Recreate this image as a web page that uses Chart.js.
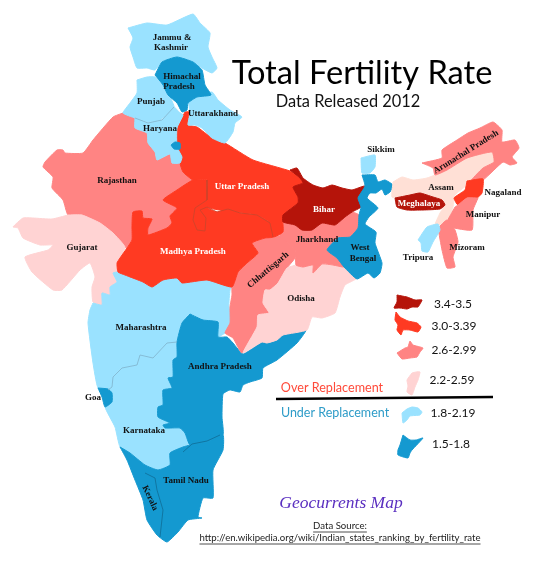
<!DOCTYPE html>
<html>
<head>
<meta charset="utf-8">
<title>Total Fertility Rate</title>
<script src="https://cdn.jsdelivr.net/npm/chart.js@4"></script>
<style>
  html, body { margin: 0; padding: 0; background: #fff; }
  canvas { display: block; }
</style>
</head>
<body>
<canvas id="map" width="533" height="575"></canvas>
<script>
// Outlines, on a 533 x 575 map grid
const jammuKashmir = [[128,28],[147,23],[167,25],[193,14],[200,23],[210,33],[208,47],[212,57],[217,68],[212,73],[202,68],[193,62],[177,57],[163,61],[155,70],[147,68],[137,68],[133,57],[130,47],[133,38]];
const himachal = [[155,75],[162,62],[177,57],[193,62],[202,70],[205,85],[211,95],[197,97],[188,103],[187,110],[182,112],[177,103],[168,95],[163,85]];
const punjab = [[137,80],[147,77],[155,77],[163,86],[170,97],[174,107],[160,120],[148,122],[135,118],[123,113],[130,103],[137,93]];
const haryana = [[135,118],[148,123],[162,120],[174,107],[179,112],[183,115],[177,128],[177,147],[182,157],[180,163],[172,163],[170,154],[157,160],[155,152],[148,143],[147,133],[135,128]];
const delhi = [[171,145],[175,142],[180,143],[180,149],[174,149]];
const uttarakhand = [[188,100],[195,97],[212,92],[218,100],[230,110],[242,117],[235,123],[233,132],[225,143],[212,138],[202,128],[195,125],[188,125],[190,113]];
const uttarPradesh = [[185,112],[189,112],[188,125],[197,127],[212,138],[225,143],[253,160],[290,171],[300,178],[303,183],[293,187],[298,197],[298,203],[283,215],[283,232],[273,237],[270,223],[257,215],[207,207],[207,180],[193,180],[183,172],[180,163],[182,157],[177,147],[177,128]];
const madhyaPradesh = [[207,180],[193,180],[177,190],[163,200],[177,208],[170,216],[172,223],[167,228],[148,235],[148,228],[152,219],[143,218],[142,211],[133,212],[132,227],[132,240],[127,248],[120,258],[117,263],[118,272],[125,275],[143,282],[152,287],[163,280],[177,278],[182,283],[207,280],[232,287],[238,272],[247,263],[258,253],[252,243],[265,238],[273,237],[270,223],[257,215],[240,213],[228,209],[217,212],[207,207]];
const bihar = [[290,170],[297,168],[303,178],[313,185],[323,188],[332,185],[342,188],[352,190],[365,186],[360,198],[361,207],[352,212],[345,217],[335,225],[322,223],[312,230],[302,230],[295,225],[283,222],[283,215],[298,203],[298,197],[293,187],[303,183],[300,178]];
const jharkhand = [[283,222],[295,225],[302,230],[312,230],[322,223],[335,225],[345,217],[352,212],[359,215],[358,228],[350,237],[338,238],[327,250],[337,258],[344,267],[333,265],[322,264],[313,273],[313,265],[303,267],[296,265],[295,250],[280,236],[283,227]];
const chhattisgarh = [[252,243],[265,238],[280,236],[295,250],[295,258],[287,268],[278,283],[270,290],[265,290],[263,303],[269,313],[258,315],[257,327],[242,353],[233,338],[225,333],[230,323],[230,307],[232,295],[232,287],[238,272],[247,263],[258,253]];
const odisha = [[296,265],[303,267],[313,265],[313,273],[322,264],[333,265],[344,267],[357,278],[345,285],[340,297],[335,313],[322,318],[312,317],[307,330],[283,335],[277,340],[267,343],[262,342],[243,353],[257,327],[258,315],[269,313],[263,303],[265,290],[270,290],[278,283],[287,268]];
const westBengal = [[362,175],[375,175],[378,182],[385,180],[393,185],[390,192],[385,195],[382,189],[376,193],[370,193],[367,198],[378,208],[369,217],[365,224],[376,232],[375,243],[382,263],[380,273],[374,278],[368,273],[357,279],[344,267],[337,258],[327,250],[338,238],[350,237],[358,228],[359,215],[361,207],[358,198],[365,186]];
const sikkim = [[361,158],[375,155],[375,167],[370,173],[362,173]];
const assam = [[393,182],[402,177],[413,180],[427,178],[447,170],[467,158],[492,152],[494,162],[483,168],[467,185],[455,195],[453,207],[447,222],[435,225],[440,213],[443,208],[437,198],[420,195],[403,197],[392,197]];
const meghalaya = [[395,198],[410,195],[420,193],[433,197],[442,200],[445,205],[440,209],[423,210],[407,210],[397,207]];
const arunachal = [[422,163],[442,158],[442,150],[457,140],[468,133],[480,128],[493,122],[502,130],[502,142],[515,140],[519,148],[512,157],[517,163],[510,165],[503,162],[483,180],[470,182],[483,168],[494,162],[492,152],[467,158],[447,170],[435,175],[433,168]];
const nagaland = [[467,181],[483,179],[482,193],[477,198],[467,198],[458,205],[454,198],[465,190]];
const manipur = [[455,207],[458,205],[467,198],[477,198],[478,198],[473,210],[472,230],[450,227],[447,222]];
const mizoram = [[438,228],[447,220],[455,230],[458,242],[453,257],[455,267],[447,268],[442,250]];
const tripura = [[418,240],[427,227],[438,224],[440,230],[433,242],[428,252],[422,251],[421,243]];
const rajasthan = [[123,113],[135,118],[135,128],[147,133],[148,143],[155,152],[157,160],[170,154],[172,163],[180,163],[183,172],[193,180],[177,190],[163,200],[177,208],[170,216],[172,223],[167,228],[148,235],[148,228],[152,219],[143,218],[142,211],[133,212],[132,227],[132,240],[126,248],[113,233],[100,223],[82,215],[68,215],[63,200],[52,188],[53,177],[43,167],[45,162],[57,150],[63,150],[65,153],[83,153],[93,140],[113,117]];
const gujarat = [[68,215],[82,215],[100,223],[113,233],[125,247],[120,258],[117,263],[118,272],[113,273],[117,282],[110,287],[110,295],[102,293],[102,305],[93,302],[92,287],[95,277],[90,263],[80,270],[62,290],[53,290],[32,272],[25,257],[48,250],[53,245],[40,245],[23,238],[18,228],[13,227],[23,218],[33,218],[52,219]];
const maharashtra = [[93,303],[102,305],[102,293],[110,295],[110,287],[117,282],[113,273],[118,272],[125,275],[143,282],[152,287],[163,280],[177,278],[182,283],[207,280],[232,287],[230,290],[229,307],[236,323],[225,333],[218,337],[218,323],[203,320],[190,314],[182,323],[177,342],[167,343],[153,358],[140,355],[137,365],[122,368],[113,377],[112,387],[108,390],[98,388],[93,363],[88,323],[90,310]];
const goa = [[98,388],[108,389],[112,393],[112,402],[105,407],[102,397]];
const andhraPradesh = [[190,314],[203,320],[218,322],[218,337],[227,337],[233,343],[243,354],[262,342],[267,343],[277,340],[283,335],[306,330],[297,343],[277,360],[263,368],[262,378],[250,382],[243,385],[240,392],[230,390],[223,394],[222,417],[223,435],[207,442],[190,445],[185,433],[180,428],[165,428],[163,425],[170,423],[158,417],[158,407],[163,405],[163,390],[172,388],[168,378],[173,377],[173,360],[177,357],[177,342],[182,323]];
const karnataka = [[108,390],[112,387],[113,377],[122,368],[137,365],[140,355],[153,358],[167,343],[177,342],[177,357],[173,360],[173,377],[168,378],[172,388],[163,390],[163,405],[158,407],[158,417],[170,423],[163,425],[165,428],[180,428],[185,433],[190,443],[183,447],[170,453],[170,465],[158,470],[145,465],[130,453],[120,447],[115,427],[105,407],[112,402],[112,393]];
const southTip = [[120,447],[130,453],[145,465],[158,470],[170,465],[170,453],[183,447],[190,445],[207,442],[223,435],[223,450],[213,470],[213,498],[203,498],[198,517],[202,518],[188,520],[178,532],[167,542],[157,535],[147,520],[143,500],[135,480],[127,460]];

// State lines inside same-coloured areas
const upMpLine = [[207,180],[207,200],[195,208],[193,220],[197,230],[205,231],[206,218],[200,210],[207,207],[217,212],[228,209],[240,213],[257,215],[270,223],[273,237]];
const keralaLine = [[145,473],[155,478],[157,490],[163,510],[160,537]];
const apTnLine = [[183,452],[192,444],[207,441],[220,435]];
const mahKarLine = [[108,390],[112,387],[113,377],[122,368],[137,365],[140,355],[153,358],[167,343],[177,342]];
const punHarLine = [[135,118],[148,123],[162,120],[174,107]];

// Small legend shapes
const keyBihar = [[397,295],[402,296],[407,297],[415,300],[422,300],[420,304],[418,307],[412,307],[407,309],[400,308],[394,308],[397,302]];
const keyUttar = [[396,312],[400,317],[408,321],[417,323],[421,327],[418,332],[410,330],[403,330],[401,335],[397,330],[398,325],[395,320]];
const keyRajasthan = [[397,353],[405,348],[408,347],[410,341],[413,345],[423,348],[420,352],[417,357],[410,358],[402,359]];
const keyChhattisgarh = [[412,373],[416,372],[420,372],[418,380],[415,387],[412,395],[407,392],[408,386],[407,380]];
const keyMaharashtra = [[402,413],[407,409],[412,407],[418,408],[422,412],[420,415],[410,416],[407,420],[403,423]];
const keyAndhra = [[403,435],[410,440],[416,440],[423,438],[412,450],[410,453],[408,458],[398,455],[398,450],[400,445]];

const darkRed = "#b5140a";
const red = "#ff3a22";
const pink = "#ff8483";
const paleRed = "#ffd3d3";
const paleBlue = "#9ae2ff";
const blue = "#1499d0";

const tierLabels = ["3.4-3.5", "3.0-3.39", "2.6-2.99", "2.2-2.59", "1.8-2.19", "1.5-1.8"];

// painter's order: later shapes sit on top
const shapes = [
  [rajasthan, pink], [gujarat, paleRed], [maharashtra, paleBlue], [karnataka, paleBlue],
  [goa, blue], [southTip, blue], [andhraPradesh, blue], [chhattisgarh, pink], [odisha, paleRed],
  [jharkhand, pink], [uttarPradesh, red], [madhyaPradesh, red], [bihar, darkRed], [westBengal, blue],
  [sikkim, paleBlue], [assam, "#ffe0d6"], [meghalaya, darkRed], [arunachal, pink], [nagaland, red],
  [manipur, pink], [mizoram, pink], [tripura, paleBlue], [jammuKashmir, paleBlue], [punjab, paleBlue],
  [haryana, paleBlue], [delhi, blue], [uttarakhand, paleBlue], [himachal, blue],
  [keyBihar, darkRed], [keyUttar, red], [keyRajasthan, pink], [keyChhattisgarh, paleRed],
  [keyMaharashtra, paleBlue], [keyAndhra, blue],
];
const borders = [
  [upMpLine, "#c8452c"], [keralaLine, "#0f6c96"], [apTnLine, "#0f6c96"],
  [mahKarLine, "#7fb2cb"], [punHarLine, "#7fb2cb"],
];

const stateNames = ["Jammu &", "Kashmir", "Himachal", "Pradesh", "Punjab", "Uttarakhand", "Haryana", "Rajasthan", "Sikkim", "Assam", "Nagaland", "Manipur", "Mizoram", "Tripura", "Jharkhand", "West", "Bengal", "Odisha", "Gujarat", "Maharashtra", "Andhra Pradesh", "Goa", "Karnataka", "Tamil Nadu"];
const nameSpots = [[172,38],[171,48],[182,77],[179,87],[151,102],[213,114],[160,129],[117,181],[381,150],[441,188],[503,193],[483,215],[467,248],[418,258],[317,240],[360,248],[363,259],[301,299],[82,248],[141,328],[220,367],[93,398],[144,431],[186,481]];
const whiteNames = ["Uttar Pradesh", "Bihar", "Meghalaya", "Madhya Pradesh"];
const whiteSpots = [[242,187],[324,210],[419,204],[193,252]];
const slantNames = ["Arunachal Pradesh", "Chhattisgarh", "Kerala"];
const slantSpots = [[466,152,-32],[268,270,-40],[150,498,65]];
const tierSpots = [[453,304],[454,326],[454,350],[452,380],[453,413],[451,444]];

function toPoints(outline) {
  const pts = outline.map(([x, y]) => ({ x, y }));
  pts.push({ x: outline[0][0], y: outline[0][1] });
  return pts;
}

const shapeSets = shapes.map(([outline, colour]) => ({
  data: toPoints(outline),
  showLine: true,
  fill: "shape",
  tension: 0.15,
  backgroundColor: colour,
  borderColor: colour,
  borderWidth: 1,
  borderJoinStyle: "round",
  pointRadius: 0,
  clip: false,
}));
const borderSets = borders.map(([line, colour]) => ({
  data: line.map(([x, y]) => ({ x, y })),
  showLine: true,
  fill: false,
  borderColor: colour,
  borderWidth: 0.8,
  pointRadius: 0,
  clip: false,
}));

function drawText(ctx, text, x, y, font, colour, rot) {
  ctx.save();
  ctx.translate(x, y);
  if (rot) ctx.rotate((rot * Math.PI) / 180);
  ctx.font = font;
  ctx.fillStyle = colour;
  ctx.textAlign = "center";
  ctx.textBaseline = "middle";
  ctx.fillText(text, 0, 0);
  ctx.restore();
}

function underlined(ctx, text, x, y, font, colour) {
  drawText(ctx, text, x, y, font, colour);
  ctx.save();
  ctx.font = font;
  const w = ctx.measureText(text).width;
  ctx.strokeStyle = colour;
  ctx.lineWidth = 0.8;
  ctx.beginPath();
  ctx.moveTo(x - w / 2, y + 6);
  ctx.lineTo(x + w / 2, y + 6);
  ctx.stroke();
  ctx.restore();
}

// Titles, state names and legend text on top of the map
const mapText = {
  id: "mapText",
  afterDatasetsDraw(chart) {
    const ctx = chart.ctx;
    const nameFont = 'bold 9px "Liberation Serif"';
    stateNames.forEach((n, i) => drawText(ctx, n, nameSpots[i][0], nameSpots[i][1], nameFont, "#111"));
    whiteNames.forEach((n, i) => drawText(ctx, n, whiteSpots[i][0], whiteSpots[i][1], nameFont, "#fff"));
    slantNames.forEach((n, i) => drawText(ctx, n, slantSpots[i][0], slantSpots[i][1], nameFont, "#111", slantSpots[i][2]));
    tierLabels.forEach((n, i) => drawText(ctx, n, tierSpots[i][0], tierSpots[i][1], "12px Lato", "#111"));

    drawText(ctx, "Total Fertility Rate", 362, 73, "32.6px Lato", "#000");
    drawText(ctx, "Data Released 2012", 348, 102, "16.4px Lato", "#111");
    drawText(ctx, "Over Replacement", 332, 388, "12.6px Lato", "#ff4a3a");
    drawText(ctx, "Under Replacement", 335, 413, "12.5px Lato", "#2e9cc8");
    drawText(ctx, "Geocurrents Map", 341, 503, 'italic 17.5px "Liberation Serif"', "#5a2fc0");
    underlined(ctx, "Data Source:", 340, 526, "9.6px Lato", "#222");
    underlined(ctx, "http://en.wikipedia.org/wiki/Indian_states_ranking_by_fertility_rate", 340, 538, "9.6px Lato", "#222");

    ctx.save();
    ctx.strokeStyle = "#000";
    ctx.lineWidth = 2.4;
    ctx.beginPath();
    ctx.moveTo(276, 399);
    ctx.lineTo(493, 397);
    ctx.stroke();
    ctx.restore();
  },
};

new Chart(document.getElementById("map").getContext("2d"), {
  type: "scatter",
  // Chart.js paints dataset 0 last, so the list is flipped
  data: { datasets: [...borderSets.reverse(), ...shapeSets.reverse()] },
  options: {
    responsive: false,
    animation: false,
    events: [],
    layout: { padding: 0 },
    plugins: { legend: { display: false }, title: { display: false }, tooltip: { enabled: false } },
    scales: {
      x: { type: "linear", min: 0, max: 533, display: false },
      y: { type: "linear", min: 0, max: 575, reverse: true, display: false },
    },
  },
  plugins: [mapText],
});
</script>
</body>
</html>
